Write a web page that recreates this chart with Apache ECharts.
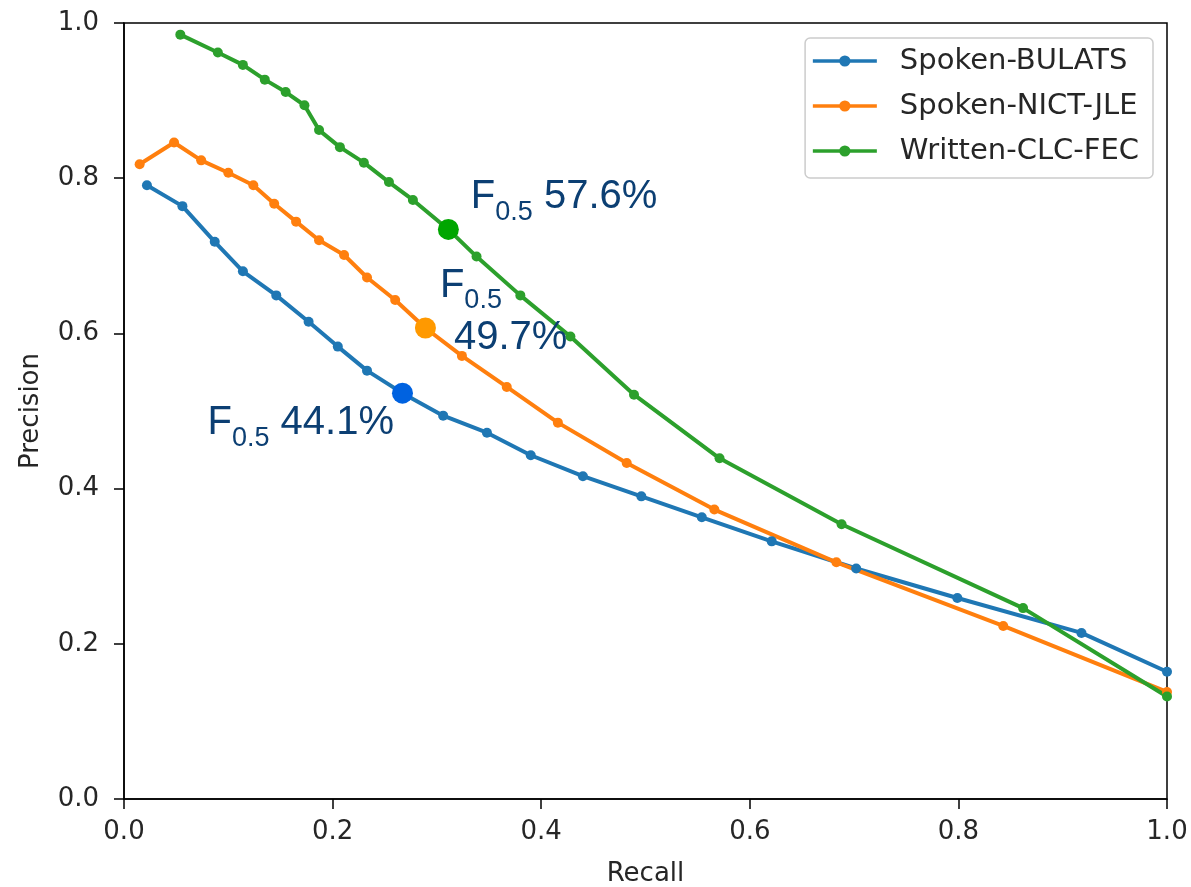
<!DOCTYPE html>
<html>
<head>
<meta charset="utf-8">
<script src="https://cdn.jsdelivr.net/npm/echarts@6/dist/echarts.min.js"></script>
<style>
  html, body { margin: 0; padding: 0; background: #fff; }
  #chart { width: 1191px; height: 887px; }
</style>
</head>
<body>
<div id="chart"></div>
<script>
// precision / recall curves
var recallBulats = [0.022, 0.056, 0.087, 0.114, 0.146, 0.177, 0.205, 0.233, 0.267, 0.306, 0.348, 0.390, 0.440, 0.496, 0.554, 0.621, 0.702, 0.799, 0.918, 1.0];
var precisionBulats = [0.791, 0.764, 0.718, 0.680, 0.649, 0.615, 0.583, 0.552, 0.523, 0.494, 0.472, 0.443, 0.416, 0.390, 0.363, 0.332, 0.297, 0.259, 0.214, 0.164];

var recallNict = [0.015, 0.048, 0.074, 0.100, 0.124, 0.144, 0.165, 0.187, 0.211, 0.233, 0.260, 0.289, 0.324, 0.367, 0.416, 0.482, 0.566, 0.683, 0.843, 1.0];
var precisionNict = [0.818, 0.846, 0.823, 0.807, 0.791, 0.767, 0.744, 0.720, 0.701, 0.672, 0.643, 0.607, 0.571, 0.531, 0.485, 0.433, 0.373, 0.305, 0.223, 0.138];

var recallClc = [0.054, 0.090, 0.114, 0.135, 0.155, 0.173, 0.187, 0.207, 0.230, 0.254, 0.277, 0.311, 0.338, 0.380, 0.428, 0.489, 0.571, 0.688, 0.862, 1.0];
var precisionClc = [0.985, 0.962, 0.946, 0.927, 0.911, 0.894, 0.862, 0.840, 0.820, 0.795, 0.772, 0.734, 0.699, 0.649, 0.596, 0.521, 0.439, 0.354, 0.246, 0.132];

var seriesNames = ['Spoken-BULATS', 'Spoken-NICT-JLE', 'Written-CLC-FEC'];

// F0.5 operating points
var f05Recall = [0.267, 0.289, 0.311];
var f05Precision = [0.523, 0.607, 0.734];
var f05Text = ['44.1%', '49.7%', '57.6%'];

var axisTicks = [0, 0.2, 0.4, 0.6, 0.8, 1.0];

function zip(xs, ys) {
    var out = [];
    for (var i = 0; i < xs.length; i++) {
        out.push([xs[i], ys[i]]);
    }
    return out;
}

var textColor = '#262626';
var noteColor = '#0c3f73';
var noteRich = {
    f: { fontSize: 40, fontFamily: 'Liberation Sans', color: noteColor, lineHeight: 50 },
    s: { fontSize: 27, fontFamily: 'Liberation Sans', color: noteColor, lineHeight: 27, padding: [30, 0, 0, 0] },
    g: { fontSize: 40, fontFamily: 'Liberation Sans', color: noteColor, lineHeight: 54, padding: [0, 0, 0, 14] }
};

var myChart = echarts.init(document.getElementById('chart'));

function curve(name, data, color) {
    return {
        name: name,
        type: 'line',
        data: data,
        symbol: 'circle',
        symbolSize: 10,
        showSymbol: true,
        lineStyle: { color: color, width: 4, opacity: 1 },
        itemStyle: { color: color, opacity: 1 },
        emphasis: { disabled: true },
        z: 2
    };
}

function valueAxis(name, pos) {
    var isX = pos === 'bottom';
    return {
        type: 'value',
        position: pos,
        min: axisTicks[0],
        max: axisTicks[axisTicks.length - 1],
        interval: 0.2,
        name: name,
        nameLocation: 'middle',
        nameGap: isX ? 62 : 80,
        nameTextStyle: { color: textColor, fontSize: 26, fontFamily: 'DejaVu Sans' },
        axisLine: { show: true, lineStyle: { color: '#000', width: 1.5 } },
        axisTick: { show: true, inside: false, length: 10, lineStyle: { color: '#000', width: 1.5 } },
        axisLabel: {
            color: textColor,
            fontSize: 26,
            fontFamily: 'DejaVu Sans',
            margin: isX ? 20 : 25,
            formatter: function (v) { return v.toFixed(1); }
        },
        splitLine: { show: false }
    };
}

var bigColors = ['#0062e0', '#ff9900', '#00a600'];
var noteLabels = [
    { position: 'left', offset: [7, 30], formatter: '{f|F}{s|0.5}{f| ' + f05Text[0] + '}' },
    { position: 'right', offset: [-1, -15], formatter: '{f|F}{s|0.5}\n{g|' + f05Text[1] + '}' },
    { position: 'right', offset: [7, -32], formatter: '{f|F}{s|0.5}{f| ' + f05Text[2] + '}' }
];

var f05Data = [];
for (var i = 0; i < f05Recall.length; i++) {
    f05Data.push({
        value: [f05Recall[i], f05Precision[i]],
        itemStyle: { color: bigColors[i], opacity: 1 },
        label: {
            show: true,
            position: noteLabels[i].position,
            offset: noteLabels[i].offset,
            formatter: noteLabels[i].formatter,
            opacity: 1,
            rich: noteRich
        }
    });
}

var option = {
    backgroundColor: '#fff',
    animation: false,
    grid: {
        left: 124,
        right: 24,
        top: 23,
        bottom: 88,
        outerBoundsMode: 'none',
        show: true,
        borderColor: '#000',
        borderWidth: 1.5,
        backgroundColor: 'transparent'
    },
    legend: {
        data: seriesNames,
        orient: 'vertical',
        right: 38,
        top: 38,
        itemWidth: 64,
        itemHeight: 14,
        itemGap: 15,
        padding: [8, 14, 12, 6],
        backgroundColor: '#fff',
        borderColor: '#cccccc',
        borderWidth: 1.5,
        borderRadius: 5,
        lineStyle: { width: 3.5 },
        textStyle: {
            color: textColor,
            fontSize: 29,
            fontFamily: 'DejaVu Sans',
            lineHeight: 30,
            padding: [0, 0, 0, 18]
        }
    },
    xAxis: valueAxis('Recall', 'bottom'),
    yAxis: valueAxis('Precision', 'left'),
    series: [
        curve(seriesNames[0], zip(recallBulats, precisionBulats), '#1f77b4'),
        curve(seriesNames[1], zip(recallNict, precisionNict), '#ff7f0e'),
        curve(seriesNames[2], zip(recallClc, precisionClc), '#2ca02c'),
        {
            name: 'F0.5',
            type: 'scatter',
            symbol: 'circle',
            symbolSize: 21,
            data: f05Data,
            emphasis: { disabled: true },
            z: 5
        }
    ]
};
myChart.setOption(option);
</script>
</body>
</html>
